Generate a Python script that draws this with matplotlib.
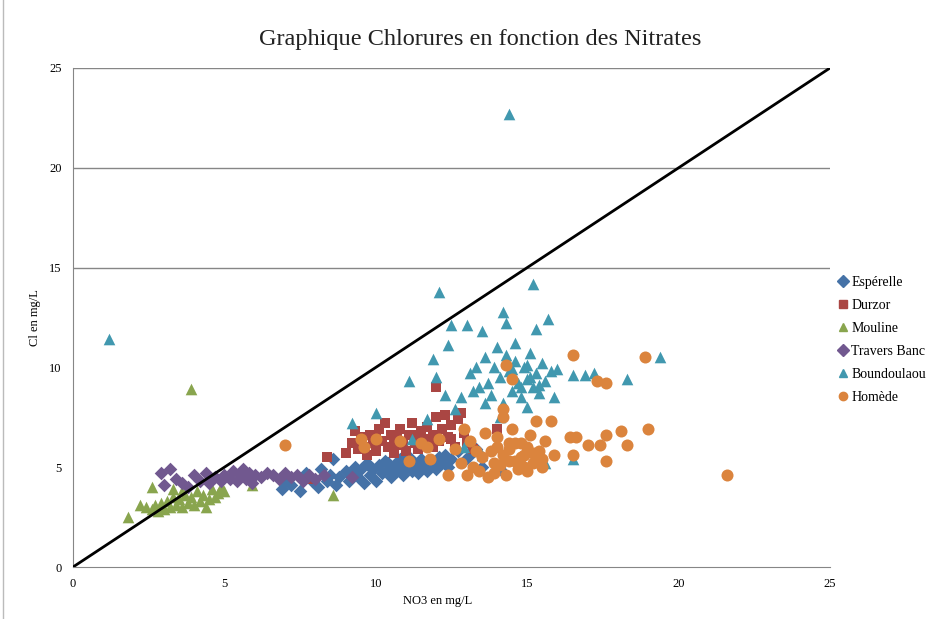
import matplotlib
matplotlib.use('Agg')
import matplotlib.pyplot as plt
from matplotlib.lines import Line2D

# Values (NO3 in mg/L, Cl in mg/L)
esperelle_no3 = [6.9, 7.0, 7.2, 7.5, 7.7, 7.9, 8.1, 8.2, 8.4, 8.5, 8.6, 8.7, 8.8,
                 9.0, 9.1, 9.3, 9.4, 9.5, 9.6, 9.7, 9.8, 9.9, 10.0, 10.1, 10.2,
                 10.3, 10.4, 10.5, 10.6, 10.7, 10.8, 10.9, 11.0, 11.1, 11.2,
                 11.3, 11.4, 11.5, 11.6, 11.7, 11.8, 11.9, 12.0, 12.1, 12.2,
                 12.3, 12.5, 12.7, 12.9, 13.1, 13.3, 13.5, 14.1,
                 9.2, 9.8, 10.4, 10.9, 11.5, 12.4]
esperelle_cl = [3.9, 4.3, 4.1, 3.8, 4.7, 4.3, 4.0, 4.9, 4.3, 4.6, 5.4, 4.1, 4.5,
                4.8, 4.3, 5.0, 4.5, 4.9, 4.2, 5.2, 4.6, 4.9, 4.3, 5.1, 4.7,
                5.3, 4.9, 4.5, 5.1, 4.8, 5.4, 4.6, 5.0, 5.5, 4.8,
                5.2, 4.7, 5.4, 5.0, 4.8, 5.3, 5.1, 4.9, 5.5, 5.2,
                5.6, 5.4, 5.8, 5.3, 5.6, 5.9, 5.0, 4.9,
                4.6, 5.0, 5.2, 5.0, 5.1, 5.0]

durzor_no3 = [7.8, 8.4, 9.0, 9.2, 9.3, 9.4, 9.5, 9.6, 9.7, 9.8, 9.9, 10.0, 10.1,
              10.2, 10.3, 10.4, 10.5, 10.6, 10.7, 10.8, 10.9, 11.0, 11.1, 11.2,
              11.3, 11.4, 11.5, 11.6, 11.7, 11.8, 11.9, 12.0, 12.1, 12.2, 12.3,
              12.4, 12.5, 12.6, 12.7, 12.9, 13.0, 13.2, 12.0, 14.0, 12.8,
              9.5, 10.0, 10.6, 11.3, 11.9, 12.5]
durzor_cl = [4.4, 5.5, 5.7, 6.2, 6.8, 5.9, 6.5, 6.0, 5.6, 6.6, 6.2, 5.8, 6.9,
             6.3, 7.2, 6.0, 6.6, 5.7, 6.4, 6.9, 6.1, 5.8, 6.6, 7.2,
             6.2, 5.9, 6.8, 6.4, 7.0, 6.1, 6.6, 7.5, 6.3, 6.9, 7.6,
             6.5, 7.1, 6.0, 7.4, 6.7, 6.2, 5.9, 9.0, 6.9, 7.7,
             6.1, 6.5, 6.2, 6.6, 6.0, 6.4]

mouline_no3 = [1.8, 2.2, 2.4, 2.6, 2.7, 2.8, 2.9, 3.0, 3.1, 3.2, 3.3, 3.4, 3.5,
               3.6, 3.7, 3.8, 3.9, 4.0, 4.1, 4.2, 4.3, 4.4, 4.5, 4.6, 4.7,
               4.8, 4.9, 5.0, 3.3, 3.6, 2.6, 3.9, 8.6, 5.9]
mouline_cl = [2.5, 3.1, 3.0, 2.9, 3.1, 2.8, 3.2, 2.9, 3.3, 3.0, 3.5, 3.1, 3.4,
              3.0, 3.6, 3.2, 3.5, 3.1, 3.8, 3.3, 3.6, 3.0, 3.4, 3.9, 3.5,
              3.7, 4.0, 3.8, 3.9, 3.8, 4.0, 8.9, 3.6, 4.1]

travers_no3 = [2.9, 3.2, 3.0, 3.4, 3.6, 3.8, 4.0, 4.2, 4.4, 4.5, 4.7, 4.9, 5.0,
               5.2, 5.3, 5.4, 5.5, 5.6, 5.7, 5.8, 5.9, 6.0, 6.2, 6.4, 6.6,
               6.8, 7.0, 7.2, 7.4, 7.6, 7.8, 8.0, 8.3, 9.2]
travers_cl = [4.7, 4.9, 4.1, 4.4, 4.2, 4.0, 4.6, 4.3, 4.7, 4.2, 4.5, 4.3, 4.6,
              4.4, 4.8, 4.3, 4.6, 4.9, 4.4, 4.7, 4.2, 4.6, 4.5, 4.7, 4.6,
              4.4, 4.7, 4.5, 4.6, 4.3, 4.6, 4.4, 4.6, 4.5]

boundou_no3 = [1.2, 9.2, 10.0, 11.1, 11.2, 11.7, 11.9, 12.0, 12.1, 12.3, 12.4,
               12.5, 12.6, 12.8, 13.0, 13.1, 13.2, 13.3, 13.4, 13.5, 13.6, 13.7,
               13.8, 13.9, 14.0, 14.1, 14.2, 14.2, 14.3, 14.3, 14.4, 14.4, 14.5,
               14.6, 14.7, 14.8, 14.9, 15.0, 15.0, 15.1, 15.2, 15.2, 15.3, 15.3,
               15.4, 15.5, 15.6, 15.7, 15.8, 15.9, 16.0, 16.5, 16.9, 17.2, 18.3,
               19.4, 16.5, 15.6, 13.5, 12.9, 14.1, 14.6, 13.6,
               14.8, 15.1, 15.4, 14.5, 15.0]
boundou_cl = [11.4, 7.2, 7.7, 9.3, 6.4, 7.4, 10.4, 9.5, 13.8, 8.6, 11.1,
              12.1, 7.9, 8.5, 12.1, 9.7, 8.8, 10.0, 9.0, 11.8, 10.5, 9.2,
              8.6, 10.0, 11.0, 9.5, 12.8, 8.2, 12.2, 10.6, 22.7, 9.8, 8.8,
              10.3, 9.2, 8.5, 10.0, 9.4, 8.0, 10.7, 9.0, 14.2, 11.9, 9.7,
              8.7, 10.2, 9.3, 12.4, 9.8, 8.5, 9.9, 9.6, 9.6, 9.7, 9.4,
              10.5, 5.4, 5.2, 5.6, 6.0, 7.5, 11.2, 8.2,
              9.0, 9.5, 9.1, 9.9, 10.1]

homede_no3 = [7.0, 9.5, 9.6, 10.0, 10.8, 11.1, 11.5, 11.7, 11.8, 12.1, 12.4,
              12.6, 12.8, 12.9, 13.0, 13.1, 13.2, 13.3, 13.4, 13.5, 13.6, 13.7,
              13.8, 13.9, 14.0, 14.0, 14.1, 14.2, 14.2, 14.2, 14.3, 14.3, 14.4,
              14.5, 14.5, 14.6, 14.6, 14.7, 14.8, 14.9, 15.0, 15.0, 15.1, 15.2,
              15.3, 15.3, 15.4, 15.5, 15.6, 15.8, 15.9, 16.4, 16.5, 16.5, 16.6,
              17.0, 17.3, 17.4, 17.6, 17.6, 17.6, 18.1, 18.3, 18.9, 19.0, 21.6,
              14.4, 14.8, 15.2, 15.5, 14.9, 14.4, 13.9]
homede_cl = [6.1, 6.4, 6.0, 6.4, 6.3, 5.3, 6.2, 6.0, 5.4, 6.4, 4.6,
             5.9, 5.2, 6.9, 4.6, 6.3, 5.0, 5.8, 4.8, 5.5, 6.7, 4.5,
             5.8, 4.7, 6.5, 6.0, 5.1, 7.5, 7.9, 5.6, 4.6, 10.1, 5.9,
             6.9, 9.4, 5.3, 6.2, 4.9, 6.2, 5.6, 4.8, 6.0, 6.6, 5.2,
             7.3, 5.5, 5.8, 5.0, 6.3, 7.3, 5.6, 6.5, 10.6, 5.6, 6.5,
             6.1, 9.3, 6.1, 9.2, 6.6, 5.3, 6.8, 6.1, 10.5, 6.9, 4.6,
             5.3, 5.5, 5.7, 5.4, 5.0, 6.2, 5.2]

series = [
    ('Espérelle', esperelle_no3, esperelle_cl, '#4572A7', 'D', 48),
    ('Durzor', durzor_no3, durzor_cl, '#AA4643', 's', 60),
    ('Mouline', mouline_no3, mouline_cl, '#89A54E', '^', 70),
    ('Travers Banc', travers_no3, travers_cl, '#71588F', 'D', 48),
    ('Boundoulaou', boundou_no3, boundou_cl, '#4198AF', '^', 70),
    ('Homède', homede_no3, homede_cl, '#DB843D', 'o', 75),
]

serif = 'Liberation Serif'

fig = plt.figure(figsize=(9.33, 6.19), dpi=100)
ax = fig.add_axes([73 / 933, 52 / 619, 757 / 933, 499 / 619])

for y in [15, 20, 25]:
    ax.axhline(y, color='#868686', lw=1, zorder=0)

handles = []
for name, xs, ys, color, marker, size in series:
    ax.scatter(xs, ys, s=size, marker=marker, color=color, linewidths=0,
               zorder=3)
    handles.append(Line2D([], [], ls='', marker=marker, color=color,
                          markersize=6, label=name))

ax.plot([0, 25], [0, 25], color='black', lw=2, zorder=4)

ax.set_xlim(0, 25)
ax.set_ylim(0, 25)
ax.set_xticks([0, 5, 10, 15, 20, 25])
ax.set_yticks([0, 5, 10, 15, 20, 25])
ax.tick_params(length=0, labelsize=9, pad=8)
for lab in ax.get_xticklabels() + ax.get_yticklabels():
    lab.set_family(serif)
for side in ['top', 'right']:
    ax.spines[side].set_visible(False)
for side in ['left', 'bottom']:
    ax.spines[side].set_color('#868686')

fig.text(480 / 933, 1 - 40 / 619, 'Graphique Chlorures en fonction des Nitrates',
         ha='center', va='center', fontsize=17.5, family=serif, color='#222222')
fig.text(438 / 933, 1 - 601 / 619, 'NO3 en mg/L', ha='center', va='center',
         fontsize=9, family=serif)
fig.text(35 / 933, 1 - 318 / 619, 'Cl en mg/L', ha='center', va='center',
         fontsize=9, family=serif, rotation=90)

fig.legend(handles=handles, loc='upper left',
           bbox_to_anchor=(833 / 933, 1 - 270 / 619), frameon=False,
           prop={'family': serif, 'size': 10}, handlelength=0.6,
           handletextpad=0.3, labelspacing=0.72, borderaxespad=0)

# chart area border on the left
fig.add_artist(Line2D([3 / 933, 3 / 933], [0, 1], color='#bbbbbb', lw=1))

fig.savefig('out.png', dpi=100)
